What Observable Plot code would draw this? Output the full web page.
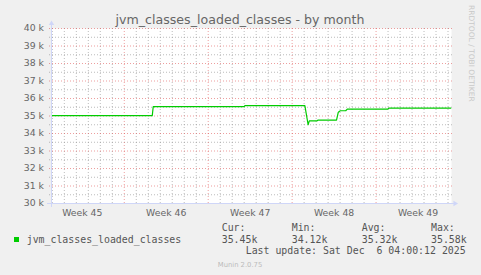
<!DOCTYPE html>
<html><head><meta charset="utf-8">
<script src="https://cdn.jsdelivr.net/npm/d3@7"></script>
<script src="https://cdn.jsdelivr.net/npm/@observablehq/plot@0.6"></script>
<style>
body{margin:0;background:#f0f0f0;}
#wrap{position:relative;width:481px;height:275px;overflow:hidden;background:#f0f0f0;}
#wrap svg{position:absolute;left:0;top:0;}
</style></head><body><div id="wrap"></div>
<script>
// ---- data ----
const times = [
  "2025-11-03T22:20Z","2025-11-12T08:00Z","2025-11-12T10:00Z","2025-11-20T00:00Z",
  "2025-11-20T01:30Z","2025-11-25T01:30Z","2025-11-25T08:00Z","2025-11-25T10:20Z",
  "2025-11-26T01:20Z","2025-11-26T03:20Z","2025-11-27T16:50Z","2025-11-27T20:25Z",
  "2025-11-28T00:25Z","2025-11-28T11:15Z","2025-11-28T14:20Z","2025-12-01T23:30Z",
  "2025-12-02T01:30Z","2025-12-07T05:25Z"
];
const values = [
  35020,35020,35540,35540,
  35590,35590,34500,34720,
  34720,34760,34760,35220,
  35300,35300,35390,35390,
  35450,35450
];
const xDomain = ["2025-11-03T22:20Z","2025-12-07T07:00Z"];
const yDomain = [30000,40000];
const yMajorTicks = [30000,31000,32000,33000,34000,35000,36000,37000,38000,39000,40000];
const yMinorTicks = [30500,31500,32500,33500,34500,35500,36500,37500,38500,39500];
const weekLabelDates = ["2025-11-06T12:00Z","2025-11-13T12:00Z","2025-11-20T12:00Z","2025-11-27T12:00Z","2025-12-04T12:00Z"];
const weekLabels = ["Week 45","Week 46","Week 47","Week 48","Week 49"];
const title = "jvm_classes_loaded_classes - by month";
const seriesName = "jvm_classes_loaded_classes";
const statLabels = ["Cur:","Min:","Avg:","Max:"];
const statValues = ["35.45k","34.12k","35.32k","35.58k"];
const lastUpdate = "Last update: Sat Dec  6 04:00:12 2025";
const watermark = "RRDTOOL / TOBI OETIKER";
const footer = "Munin 2.0.75";

// ---- chart ----
const data = times.map((t,i)=>({date:new Date(t), value:values[i]}));
const start = new Date(xDomain[0]), end = new Date(xDomain[1]);
const mondays = d3.utcMonday.range(start, end);
const days = d3.utcDay.range(d3.utcDay.ceil(start), end).filter(d => d.getUTCDay() !== 1);
const weekTicks = weekLabelDates.map(d => new Date(d));
const AXIS = "#CFD6F8", GRID = "rgba(143,143,143,0.6)", MGRID = "rgba(222,79,79,0.55)";

const chart = Plot.plot({
  width: 481, height: 275,
  marginLeft: 51, marginRight: 30, marginTop: 28, marginBottom: 72,
  style: {background:"transparent", fontFamily:"DejaVu Sans", fontSize:"9.3px", color:"#666", overflow:"visible"},
  x: {type:"utc", domain:[start,end]},
  y: {domain:yDomain},
  marks: [
    Plot.frame({fill:"white", stroke:"none"}),
    Plot.ruleY(yMinorTicks, {stroke:GRID, strokeDasharray:"1,2", insetLeft:-2, insetRight:-2}),
    Plot.ruleX(days, {stroke:GRID, strokeDasharray:"1,2", insetTop:0, insetBottom:-2}),
    Plot.ruleY(yMajorTicks.slice(1), {stroke:MGRID, strokeDasharray:"1,2", insetLeft:-2, insetRight:-2}),
    Plot.ruleX(mondays, {stroke:MGRID, strokeDasharray:"1,2", insetBottom:-2}),
    Plot.line(data, {x:"date", y:"value", stroke:"#00cc00", strokeWidth:1.2}),
    Plot.ruleY([yDomain[0]], {stroke:AXIS, insetLeft:-4, insetRight:-4}),
    Plot.ruleX([start], {stroke:AXIS, insetTop:-4, insetBottom:-4}),
    Plot.dot([{x:end, y:yDomain[0]}], {x:"x", y:"y", symbol:"triangle", rotate:90, r:2, fill:AXIS, stroke:"none", dx:3.5}),
    Plot.dot([{x:start, y:yDomain[1]}], {x:"x", y:"y", symbol:"triangle", r:2, fill:AXIS, stroke:"none", dy:-5}),
    Plot.axisY({ticks:yMajorTicks, tickFormat:d => (d/1000) + " k", tickSize:0, tickPadding:7.5}),
    Plot.axisX({ticks:weekTicks, tickFormat:(d,i) => weekLabels[weekTicks.findIndex(w => +w === +d)], tickSize:0, tickPadding:6})
  ]
});
const wrap = document.getElementById("wrap");
wrap.appendChild(chart);

// ---- title, legend, watermark ----
const svg = d3.select(wrap).append("svg").attr("width",481).attr("height",275)
  .style("pointer-events","none");
svg.append("text").attr("x",240).attr("y",23.5).attr("text-anchor","middle")
  .attr("font-family","DejaVu Sans").attr("font-size","12.6px").attr("fill","#666").text(title);
svg.append("rect").attr("x",14).attr("y",237).attr("width",5).attr("height",5).attr("fill","#00cc00");
const mono = {family:"DejaVu Sans Mono", size:"9.9px", fill:"#555"};
function mtext(x,y,t){
  return svg.append("text").attr("x",x).attr("y",y).attr("font-family",mono.family)
    .attr("font-size",mono.size).attr("fill",mono.fill).style("white-space","pre").text(t);
}
mtext(26.7,242.7,seriesName);
const statX = [221.7,291.7,361.7,431];
statLabels.forEach((l,i)=>mtext(statX[i],230.7,l));
statValues.forEach((v,i)=>mtext(statX[i],242.7,v));
mtext(245.7,254.3,lastUpdate);
svg.append("text").attr("x",240).attr("y",266.7).attr("text-anchor","middle")
  .attr("font-family","DejaVu Sans").attr("font-size","6.8px").attr("fill","#bbb").text(footer);
svg.append("text").attr("transform","translate(468.5,5) rotate(90)")
  .attr("font-family","DejaVu Sans").attr("font-size","7.5px").attr("fill","#c8c8c8").text(watermark);
</script></body></html>
